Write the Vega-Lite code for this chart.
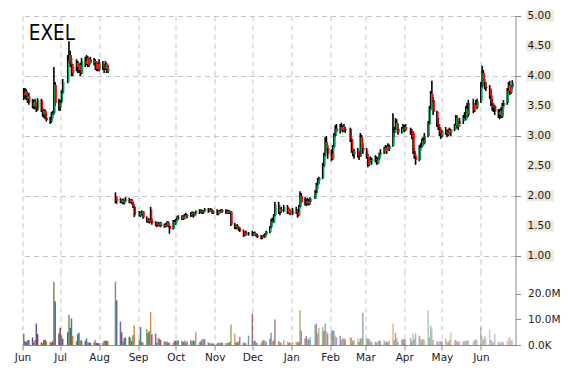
{
"$schema": "https://vega.github.io/schema/vega-lite/v6.json",
"padding": {"left": 13.5, "top": 10, "right": 5, "bottom": 5},
"background": "white",
"spacing": 0,
"config": {"view": {"stroke": null}, "concat": {"spacing": 0}, "axis": {"labelFont": "DejaVu Sans", "labelFontSize": 10.5, "labelColor": "#1a1a2a", "domainColor": "#8a8a8a", "tickColor": "#8a8a8a", "gridColor": "#c4c4c4", "gridDash": [5, 4], "title": null}},
"datasets": {"px": [
{"d":"2014-06-02","o":3.72,"h":3.80,"l":3.60,"c":3.68,"v":4.5},
{"d":"2014-06-03","o":3.68,"h":3.80,"l":3.62,"c":3.75,"v":1.5},
{"d":"2014-06-04","o":3.75,"h":3.78,"l":3.60,"c":3.62,"v":1.2},
{"d":"2014-06-05","o":3.62,"h":3.70,"l":3.55,"c":3.66,"v":1.8},
{"d":"2014-06-06","o":3.66,"h":3.72,"l":3.52,"c":3.56,"v":2.0},
{"d":"2014-06-09","o":3.56,"h":3.62,"l":3.46,"c":3.50,"v":3.0},
{"d":"2014-06-10","o":3.50,"h":3.60,"l":3.45,"c":3.58,"v":1.0},
{"d":"2014-06-11","o":3.58,"h":3.62,"l":3.44,"c":3.47,"v":2.0},
{"d":"2014-06-12","o":3.47,"h":3.55,"l":3.40,"c":3.45,"v":8.4},
{"d":"2014-06-13","o":3.45,"h":3.63,"l":3.42,"c":3.60,"v":4.3},
{"d":"2014-06-16","o":3.60,"h":3.62,"l":3.40,"c":3.42,"v":1.0},
{"d":"2014-06-17","o":3.42,"h":3.47,"l":3.32,"c":3.36,"v":0.8},
{"d":"2014-06-18","o":3.36,"h":3.45,"l":3.30,"c":3.42,"v":2.0},
{"d":"2014-06-19","o":3.42,"h":3.44,"l":3.28,"c":3.30,"v":2.1},
{"d":"2014-06-20","o":3.30,"h":3.38,"l":3.24,"c":3.27,"v":1.5},
{"d":"2014-06-23","o":3.27,"h":3.32,"l":3.20,"c":3.25,"v":1.2},
{"d":"2014-06-24","o":3.25,"h":3.40,"l":3.22,"c":3.36,"v":0.8},
{"d":"2014-06-25","o":3.36,"h":3.42,"l":3.30,"c":3.38,"v":1.5},
{"d":"2014-06-26","o":3.38,"h":4.15,"l":3.36,"c":3.85,"v":24.8},
{"d":"2014-06-27","o":3.85,"h":3.90,"l":3.50,"c":3.55,"v":17.0},
{"d":"2014-06-30","o":3.55,"h":3.62,"l":3.42,"c":3.48,"v":4.5},
{"d":"2014-07-01","o":3.48,"h":3.60,"l":3.42,"c":3.56,"v":6.8},
{"d":"2014-07-02","o":3.56,"h":3.76,"l":3.54,"c":3.72,"v":3.8},
{"d":"2014-07-03","o":3.72,"h":3.95,"l":3.70,"c":3.90,"v":2.5},
{"d":"2014-07-07","o":3.90,"h":4.35,"l":3.88,"c":4.25,"v":5.0},
{"d":"2014-07-08","o":4.25,"h":4.58,"l":4.20,"c":4.35,"v":11.9},
{"d":"2014-07-09","o":4.35,"h":4.42,"l":4.15,"c":4.20,"v":6.8},
{"d":"2014-07-10","o":4.20,"h":4.30,"l":4.00,"c":4.05,"v":10.4},
{"d":"2014-07-11","o":4.05,"h":4.20,"l":4.00,"c":4.15,"v":3.6},
{"d":"2014-07-14","o":4.15,"h":4.28,"l":4.08,"c":4.22,"v":1.5},
{"d":"2014-07-15","o":4.22,"h":4.25,"l":4.05,"c":4.10,"v":4.3},
{"d":"2014-07-16","o":4.10,"h":4.20,"l":4.05,"c":4.18,"v":4.8},
{"d":"2014-07-17","o":4.18,"h":4.22,"l":4.00,"c":4.05,"v":1.8},
{"d":"2014-07-18","o":4.05,"h":4.30,"l":4.03,"c":4.25,"v":1.8},
{"d":"2014-07-21","o":4.25,"h":4.32,"l":4.15,"c":4.20,"v":1.6},
{"d":"2014-07-22","o":4.20,"h":4.35,"l":4.18,"c":4.30,"v":2.6},
{"d":"2014-07-23","o":4.30,"h":4.33,"l":4.15,"c":4.18,"v":1.0},
{"d":"2014-07-24","o":4.18,"h":4.30,"l":4.15,"c":4.28,"v":1.0},
{"d":"2014-07-25","o":4.28,"h":4.32,"l":4.20,"c":4.22,"v":0.9},
{"d":"2014-07-28","o":4.22,"h":4.30,"l":4.18,"c":4.25,"v":1.1},
{"d":"2014-07-29","o":4.25,"h":4.28,"l":4.10,"c":4.12,"v":2.0},
{"d":"2014-07-30","o":4.12,"h":4.25,"l":4.08,"c":4.20,"v":0.8},
{"d":"2014-07-31","o":4.20,"h":4.22,"l":4.08,"c":4.10,"v":0.8},
{"d":"2014-08-01","o":4.10,"h":4.28,"l":4.08,"c":4.22,"v":0.7},
{"d":"2014-08-04","o":4.22,"h":4.25,"l":4.10,"c":4.15,"v":0.9},
{"d":"2014-08-05","o":4.15,"h":4.20,"l":4.05,"c":4.12,"v":1.7},
{"d":"2014-08-06","o":4.12,"h":4.25,"l":4.10,"c":4.20,"v":1.6},
{"d":"2014-08-07","o":4.20,"h":4.22,"l":4.05,"c":4.08,"v":1.7},
{"d":"2014-08-08","o":4.08,"h":4.18,"l":4.05,"c":4.12,"v":1.5},
{"d":"2014-08-14","o":2.00,"h":2.06,"l":1.88,"c":1.92,"v":24.8},
{"d":"2014-08-15","o":1.92,"h":1.98,"l":1.87,"c":1.95,"v":17.5},
{"d":"2014-08-18","o":1.95,"h":1.97,"l":1.88,"c":1.90,"v":9.2},
{"d":"2014-08-19","o":1.90,"h":1.95,"l":1.88,"c":1.93,"v":5.0},
{"d":"2014-08-20","o":1.93,"h":1.96,"l":1.86,"c":1.88,"v":1.2},
{"d":"2014-08-21","o":1.88,"h":1.94,"l":1.86,"c":1.92,"v":2.6},
{"d":"2014-08-22","o":1.92,"h":1.98,"l":1.90,"c":1.94,"v":3.0},
{"d":"2014-08-25","o":1.94,"h":1.97,"l":1.88,"c":1.90,"v":3.2},
{"d":"2014-08-26","o":1.90,"h":1.95,"l":1.88,"c":1.93,"v":2.8},
{"d":"2014-08-27","o":1.93,"h":1.95,"l":1.86,"c":1.87,"v":1.5},
{"d":"2014-08-28","o":1.87,"h":1.90,"l":1.80,"c":1.82,"v":3.8},
{"d":"2014-08-29","o":1.82,"h":1.84,"l":1.65,"c":1.68,"v":7.6},
{"d":"2014-09-02","o":1.68,"h":1.75,"l":1.66,"c":1.72,"v":2.0},
{"d":"2014-09-03","o":1.72,"h":1.74,"l":1.65,"c":1.70,"v":7.0},
{"d":"2014-09-04","o":1.70,"h":1.76,"l":1.68,"c":1.74,"v":1.2},
{"d":"2014-09-05","o":1.74,"h":1.75,"l":1.62,"c":1.64,"v":1.0},
{"d":"2014-09-08","o":1.64,"h":1.66,"l":1.56,"c":1.58,"v":6.2},
{"d":"2014-09-09","o":1.58,"h":1.63,"l":1.55,"c":1.60,"v":4.7},
{"d":"2014-09-10","o":1.60,"h":1.62,"l":1.54,"c":1.56,"v":5.5},
{"d":"2014-09-11","o":1.78,"h":1.82,"l":1.55,"c":1.58,"v":13.0},
{"d":"2014-09-12","o":1.58,"h":1.62,"l":1.52,"c":1.55,"v":4.2},
{"d":"2014-09-15","o":1.55,"h":1.58,"l":1.50,"c":1.52,"v":4.5},
{"d":"2014-09-16","o":1.52,"h":1.56,"l":1.48,"c":1.54,"v":1.0},
{"d":"2014-09-17","o":1.54,"h":1.57,"l":1.50,"c":1.51,"v":2.8},
{"d":"2014-09-18","o":1.51,"h":1.56,"l":1.49,"c":1.55,"v":2.4},
{"d":"2014-09-19","o":1.55,"h":1.57,"l":1.48,"c":1.50,"v":2.0},
{"d":"2014-09-22","o":1.50,"h":1.54,"l":1.47,"c":1.52,"v":1.5},
{"d":"2014-09-23","o":1.52,"h":1.55,"l":1.48,"c":1.50,"v":1.2},
{"d":"2014-09-24","o":1.50,"h":1.58,"l":1.49,"c":1.56,"v":1.4},
{"d":"2014-09-25","o":1.56,"h":1.58,"l":1.48,"c":1.50,"v":0.8},
{"d":"2014-09-26","o":1.50,"h":1.52,"l":1.37,"c":1.45,"v":1.0},
{"d":"2014-09-29","o":1.45,"h":1.60,"l":1.44,"c":1.57,"v":0.9},
{"d":"2014-09-30","o":1.57,"h":1.60,"l":1.52,"c":1.54,"v":1.7},
{"d":"2014-10-01","o":1.54,"h":1.62,"l":1.52,"c":1.60,"v":1.6},
{"d":"2014-10-02","o":1.60,"h":1.66,"l":1.58,"c":1.64,"v":1.8},
{"d":"2014-10-03","o":1.64,"h":1.68,"l":1.60,"c":1.62,"v":1.8},
{"d":"2014-10-06","o":1.62,"h":1.68,"l":1.60,"c":1.66,"v":1.7},
{"d":"2014-10-07","o":1.66,"h":1.68,"l":1.60,"c":1.62,"v":1.2},
{"d":"2014-10-08","o":1.62,"h":1.70,"l":1.61,"c":1.68,"v":1.8},
{"d":"2014-10-09","o":1.68,"h":1.72,"l":1.64,"c":1.66,"v":1.0},
{"d":"2014-10-10","o":1.66,"h":1.70,"l":1.63,"c":1.68,"v":1.5},
{"d":"2014-10-13","o":1.68,"h":1.73,"l":1.65,"c":1.70,"v":1.9},
{"d":"2014-10-14","o":1.70,"h":1.74,"l":1.66,"c":1.72,"v":1.4},
{"d":"2014-10-15","o":1.72,"h":1.74,"l":1.64,"c":1.67,"v":1.8},
{"d":"2014-10-16","o":1.67,"h":1.73,"l":1.66,"c":1.71,"v":1.7},
{"d":"2014-10-17","o":1.71,"h":1.76,"l":1.69,"c":1.74,"v":5.0},
{"d":"2014-10-20","o":1.74,"h":1.78,"l":1.70,"c":1.76,"v":1.2},
{"d":"2014-10-21","o":1.76,"h":1.78,"l":1.72,"c":1.74,"v":1.5},
{"d":"2014-10-22","o":1.74,"h":1.77,"l":1.70,"c":1.72,"v":2.3},
{"d":"2014-10-23","o":1.72,"h":1.76,"l":1.70,"c":1.75,"v":2.2},
{"d":"2014-10-24","o":1.75,"h":1.80,"l":1.73,"c":1.78,"v":2.4},
{"d":"2014-10-27","o":1.78,"h":1.80,"l":1.72,"c":1.74,"v":1.0},
{"d":"2014-10-28","o":1.74,"h":1.79,"l":1.73,"c":1.77,"v":0.6},
{"d":"2014-10-29","o":1.77,"h":1.80,"l":1.74,"c":1.76,"v":0.8},
{"d":"2014-10-30","o":1.76,"h":1.78,"l":1.70,"c":1.72,"v":0.6},
{"d":"2014-10-31","o":1.72,"h":1.76,"l":1.70,"c":1.74,"v":0.6},
{"d":"2014-11-03","o":1.74,"h":1.78,"l":1.68,"c":1.70,"v":0.6},
{"d":"2014-11-04","o":1.70,"h":1.76,"l":1.68,"c":1.75,"v":0.9},
{"d":"2014-11-05","o":1.75,"h":1.77,"l":1.71,"c":1.73,"v":0.8},
{"d":"2014-11-06","o":1.73,"h":1.78,"l":1.72,"c":1.76,"v":0.8},
{"d":"2014-11-07","o":1.76,"h":1.78,"l":1.72,"c":1.74,"v":1.0},
{"d":"2014-11-10","o":1.74,"h":1.78,"l":1.70,"c":1.72,"v":0.8},
{"d":"2014-11-11","o":1.72,"h":1.77,"l":1.71,"c":1.75,"v":0.7},
{"d":"2014-11-12","o":1.75,"h":1.77,"l":1.70,"c":1.72,"v":0.9},
{"d":"2014-11-13","o":1.72,"h":1.76,"l":1.70,"c":1.74,"v":1.2},
{"d":"2014-11-14","o":1.74,"h":1.75,"l":1.50,"c":1.52,"v":8.0},
{"d":"2014-11-17","o":1.52,"h":1.55,"l":1.45,"c":1.48,"v":4.5},
{"d":"2014-11-18","o":1.48,"h":1.52,"l":1.44,"c":1.50,"v":1.2},
{"d":"2014-11-19","o":1.50,"h":1.53,"l":1.46,"c":1.47,"v":1.0},
{"d":"2014-11-20","o":1.47,"h":1.50,"l":1.42,"c":1.45,"v":1.5},
{"d":"2014-11-21","o":1.45,"h":1.48,"l":1.40,"c":1.42,"v":3.0},
{"d":"2014-11-24","o":1.42,"h":1.44,"l":1.32,"c":1.35,"v":1.0},
{"d":"2014-11-25","o":1.35,"h":1.40,"l":1.33,"c":1.38,"v":0.8},
{"d":"2014-11-26","o":1.38,"h":1.42,"l":1.34,"c":1.36,"v":0.6},
{"d":"2014-11-28","o":1.36,"h":1.40,"l":1.34,"c":1.38,"v":3.6},
{"d":"2014-12-01","o":1.38,"h":1.42,"l":1.33,"c":1.35,"v":12.3},
{"d":"2014-12-02","o":1.35,"h":1.40,"l":1.34,"c":1.38,"v":1.5},
{"d":"2014-12-03","o":1.38,"h":1.41,"l":1.34,"c":1.36,"v":1.8},
{"d":"2014-12-04","o":1.36,"h":1.38,"l":1.32,"c":1.34,"v":1.0},
{"d":"2014-12-05","o":1.34,"h":1.37,"l":1.30,"c":1.32,"v":0.8},
{"d":"2014-12-08","o":1.32,"h":1.35,"l":1.28,"c":1.30,"v":0.6},
{"d":"2014-12-09","o":1.30,"h":1.34,"l":1.28,"c":1.33,"v":1.5},
{"d":"2014-12-10","o":1.33,"h":1.36,"l":1.30,"c":1.31,"v":2.0},
{"d":"2014-12-11","o":1.31,"h":1.38,"l":1.30,"c":1.36,"v":1.8},
{"d":"2014-12-12","o":1.36,"h":1.42,"l":1.34,"c":1.40,"v":1.2},
{"d":"2014-12-15","o":1.40,"h":1.50,"l":1.38,"c":1.48,"v":2.5},
{"d":"2014-12-16","o":1.48,"h":1.62,"l":1.46,"c":1.58,"v":4.8},
{"d":"2014-12-17","o":1.58,"h":1.64,"l":1.54,"c":1.56,"v":1.5},
{"d":"2014-12-18","o":1.56,"h":1.70,"l":1.55,"c":1.68,"v":1.8},
{"d":"2014-12-19","o":1.68,"h":1.90,"l":1.66,"c":1.85,"v":10.0},
{"d":"2014-12-22","o":1.85,"h":1.90,"l":1.70,"c":1.74,"v":1.6},
{"d":"2014-12-23","o":1.74,"h":1.80,"l":1.68,"c":1.78,"v":1.2},
{"d":"2014-12-24","o":1.78,"h":1.82,"l":1.72,"c":1.75,"v":0.8},
{"d":"2014-12-26","o":1.75,"h":1.85,"l":1.73,"c":1.82,"v":1.8},
{"d":"2014-12-29","o":1.82,"h":1.85,"l":1.70,"c":1.72,"v":1.4},
{"d":"2014-12-30","o":1.72,"h":1.80,"l":1.70,"c":1.76,"v":0.9},
{"d":"2014-12-31","o":1.76,"h":1.78,"l":1.68,"c":1.70,"v":1.0},
{"d":"2015-01-02","o":1.70,"h":1.80,"l":1.68,"c":1.76,"v":1.2},
{"d":"2015-01-05","o":1.76,"h":1.82,"l":1.70,"c":1.72,"v":1.2},
{"d":"2015-01-06","o":1.72,"h":1.78,"l":1.64,"c":1.68,"v":1.0},
{"d":"2015-01-07","o":1.68,"h":1.85,"l":1.66,"c":1.82,"v":1.3},
{"d":"2015-01-08","o":1.82,"h":2.08,"l":1.80,"c":2.00,"v":13.5},
{"d":"2015-01-09","o":2.00,"h":2.05,"l":1.88,"c":1.90,"v":5.5},
{"d":"2015-01-12","o":1.90,"h":1.98,"l":1.84,"c":1.88,"v":2.5},
{"d":"2015-01-13","o":1.88,"h":1.96,"l":1.83,"c":1.92,"v":3.6},
{"d":"2015-01-14","o":1.92,"h":1.97,"l":1.85,"c":1.87,"v":2.5},
{"d":"2015-01-15","o":1.87,"h":1.95,"l":1.84,"c":1.90,"v":2.0},
{"d":"2015-01-16","o":1.90,"h":1.98,"l":1.86,"c":1.96,"v":3.0},
{"d":"2015-01-20","o":1.96,"h":2.10,"l":1.95,"c":2.05,"v":8.0},
{"d":"2015-01-21","o":2.05,"h":2.22,"l":2.02,"c":2.18,"v":8.4},
{"d":"2015-01-22","o":2.18,"h":2.30,"l":2.12,"c":2.26,"v":4.5},
{"d":"2015-01-23","o":2.26,"h":2.32,"l":2.20,"c":2.30,"v":6.8},
{"d":"2015-01-26","o":2.30,"h":2.55,"l":2.28,"c":2.50,"v":7.0},
{"d":"2015-01-27","o":2.50,"h":2.72,"l":2.48,"c":2.68,"v":5.5},
{"d":"2015-01-28","o":2.68,"h":2.98,"l":2.65,"c":2.90,"v":8.4},
{"d":"2015-01-29","o":2.90,"h":3.00,"l":2.75,"c":2.80,"v":5.5},
{"d":"2015-01-30","o":2.80,"h":2.85,"l":2.62,"c":2.70,"v":4.5},
{"d":"2015-02-02","o":2.70,"h":2.78,"l":2.58,"c":2.62,"v":5.5},
{"d":"2015-02-03","o":2.62,"h":2.85,"l":2.60,"c":2.82,"v":5.8},
{"d":"2015-02-04","o":2.82,"h":3.05,"l":2.80,"c":3.00,"v":5.5},
{"d":"2015-02-05","o":3.00,"h":3.18,"l":2.98,"c":3.12,"v":3.6},
{"d":"2015-02-06","o":3.12,"h":3.20,"l":3.05,"c":3.08,"v":3.0},
{"d":"2015-02-09","o":3.08,"h":3.20,"l":3.04,"c":3.15,"v":3.6},
{"d":"2015-02-10","o":3.15,"h":3.22,"l":3.08,"c":3.10,"v":2.0},
{"d":"2015-02-11","o":3.10,"h":3.18,"l":3.06,"c":3.16,"v":2.6},
{"d":"2015-02-12","o":3.16,"h":3.20,"l":3.08,"c":3.10,"v":2.6},
{"d":"2015-02-13","o":3.10,"h":3.15,"l":3.05,"c":3.12,"v":2.2},
{"d":"2015-02-17","o":3.12,"h":3.14,"l":2.90,"c":2.95,"v":3.0},
{"d":"2015-02-18","o":2.95,"h":2.98,"l":2.72,"c":2.75,"v":2.8},
{"d":"2015-02-19","o":2.75,"h":2.80,"l":2.66,"c":2.70,"v":1.5},
{"d":"2015-02-20","o":2.70,"h":2.78,"l":2.62,"c":2.74,"v":2.0},
{"d":"2015-02-23","o":2.74,"h":2.80,"l":2.64,"c":2.68,"v":2.5},
{"d":"2015-02-24","o":2.68,"h":2.74,"l":2.60,"c":2.66,"v":1.2},
{"d":"2015-02-25","o":2.66,"h":3.05,"l":2.65,"c":2.98,"v":2.5},
{"d":"2015-02-26","o":2.98,"h":3.02,"l":2.78,"c":2.80,"v":2.7},
{"d":"2015-02-27","o":2.80,"h":2.88,"l":2.70,"c":2.76,"v":12.5},
{"d":"2015-03-02","o":2.76,"h":2.80,"l":2.62,"c":2.65,"v":2.6},
{"d":"2015-03-03","o":2.65,"h":2.70,"l":2.48,"c":2.52,"v":2.5},
{"d":"2015-03-04","o":2.52,"h":2.62,"l":2.50,"c":2.60,"v":2.4},
{"d":"2015-03-05","o":2.60,"h":2.66,"l":2.55,"c":2.58,"v":1.6},
{"d":"2015-03-06","o":2.58,"h":2.64,"l":2.52,"c":2.62,"v":1.2},
{"d":"2015-03-09","o":2.62,"h":2.68,"l":2.56,"c":2.60,"v":1.2},
{"d":"2015-03-10","o":2.60,"h":2.66,"l":2.52,"c":2.55,"v":1.0},
{"d":"2015-03-11","o":2.55,"h":2.64,"l":2.53,"c":2.62,"v":1.4},
{"d":"2015-03-12","o":2.62,"h":2.72,"l":2.60,"c":2.70,"v":1.8},
{"d":"2015-03-13","o":2.70,"h":2.78,"l":2.66,"c":2.72,"v":1.6},
{"d":"2015-03-16","o":2.72,"h":2.82,"l":2.70,"c":2.80,"v":1.8},
{"d":"2015-03-17","o":2.80,"h":2.85,"l":2.72,"c":2.75,"v":1.2},
{"d":"2015-03-18","o":2.75,"h":2.84,"l":2.70,"c":2.82,"v":1.5},
{"d":"2015-03-19","o":2.82,"h":2.88,"l":2.76,"c":2.78,"v":1.0},
{"d":"2015-03-20","o":2.78,"h":2.86,"l":2.75,"c":2.84,"v":1.8},
{"d":"2015-03-23","o":2.84,"h":3.38,"l":2.82,"c":3.05,"v":8.4},
{"d":"2015-03-24","o":3.05,"h":3.15,"l":2.98,"c":3.10,"v":2.0},
{"d":"2015-03-25","o":3.10,"h":3.30,"l":3.05,"c":3.22,"v":4.7},
{"d":"2015-03-26","o":3.22,"h":3.28,"l":3.10,"c":3.12,"v":2.6},
{"d":"2015-03-27","o":3.12,"h":3.20,"l":3.02,"c":3.06,"v":1.3},
{"d":"2015-03-30","o":3.06,"h":3.15,"l":3.04,"c":3.12,"v":2.0},
{"d":"2015-03-31","o":3.12,"h":3.20,"l":3.08,"c":3.10,"v":2.2},
{"d":"2015-04-01","o":3.10,"h":3.18,"l":3.06,"c":3.15,"v":2.4},
{"d":"2015-04-02","o":3.15,"h":3.20,"l":3.08,"c":3.10,"v":2.0},
{"d":"2015-04-06","o":3.10,"h":3.14,"l":3.02,"c":3.08,"v":2.8},
{"d":"2015-04-07","o":3.08,"h":3.12,"l":2.95,"c":2.98,"v":1.5},
{"d":"2015-04-08","o":3.06,"h":3.08,"l":2.70,"c":2.75,"v":4.5},
{"d":"2015-04-09","o":2.75,"h":2.80,"l":2.62,"c":2.66,"v":2.2},
{"d":"2015-04-10","o":2.66,"h":2.70,"l":2.52,"c":2.60,"v":4.5},
{"d":"2015-04-13","o":2.60,"h":2.85,"l":2.58,"c":2.80,"v":3.6},
{"d":"2015-04-14","o":2.80,"h":2.88,"l":2.75,"c":2.82,"v":2.6},
{"d":"2015-04-15","o":2.82,"h":2.96,"l":2.80,"c":2.92,"v":1.8},
{"d":"2015-04-16","o":2.92,"h":2.98,"l":2.85,"c":2.88,"v":2.4},
{"d":"2015-04-17","o":2.88,"h":3.05,"l":2.86,"c":3.00,"v":2.0},
{"d":"2015-04-20","o":3.00,"h":3.25,"l":2.98,"c":3.20,"v":13.5},
{"d":"2015-04-21","o":3.20,"h":3.50,"l":3.18,"c":3.45,"v":3.0},
{"d":"2015-04-22","o":3.45,"h":3.75,"l":3.42,"c":3.70,"v":7.6},
{"d":"2015-04-23","o":3.70,"h":3.92,"l":3.55,"c":3.60,"v":6.3},
{"d":"2015-04-24","o":3.60,"h":3.65,"l":3.35,"c":3.40,"v":2.0},
{"d":"2015-04-27","o":3.40,"h":3.42,"l":3.15,"c":3.20,"v":1.5},
{"d":"2015-04-28","o":3.20,"h":3.30,"l":3.10,"c":3.15,"v":1.2},
{"d":"2015-04-29","o":3.15,"h":3.20,"l":3.00,"c":3.05,"v":1.5},
{"d":"2015-04-30","o":3.05,"h":3.12,"l":2.95,"c":3.00,"v":1.6},
{"d":"2015-05-01","o":3.00,"h":3.10,"l":2.98,"c":3.08,"v":1.4},
{"d":"2015-05-04","o":3.08,"h":3.15,"l":3.02,"c":3.05,"v":2.6},
{"d":"2015-05-05","o":3.05,"h":3.10,"l":2.98,"c":3.02,"v":1.5},
{"d":"2015-05-06","o":3.02,"h":3.12,"l":3.00,"c":3.10,"v":1.2},
{"d":"2015-05-07","o":3.10,"h":3.14,"l":3.02,"c":3.05,"v":2.0},
{"d":"2015-05-08","o":3.05,"h":3.12,"l":3.00,"c":3.10,"v":4.9},
{"d":"2015-05-11","o":3.10,"h":3.20,"l":3.08,"c":3.18,"v":1.8},
{"d":"2015-05-12","o":3.18,"h":3.35,"l":3.15,"c":3.30,"v":2.0},
{"d":"2015-05-13","o":3.30,"h":3.34,"l":3.12,"c":3.15,"v":1.5},
{"d":"2015-05-14","o":3.15,"h":3.25,"l":3.10,"c":3.20,"v":1.2},
{"d":"2015-05-15","o":3.20,"h":3.30,"l":3.15,"c":3.25,"v":1.5},
{"d":"2015-05-18","o":3.25,"h":3.35,"l":3.20,"c":3.30,"v":1.4},
{"d":"2015-05-19","o":3.30,"h":3.40,"l":3.25,"c":3.28,"v":1.5},
{"d":"2015-05-20","o":3.28,"h":3.50,"l":3.26,"c":3.45,"v":1.8},
{"d":"2015-05-21","o":3.45,"h":3.55,"l":3.30,"c":3.35,"v":1.6},
{"d":"2015-05-22","o":3.35,"h":3.60,"l":3.32,"c":3.55,"v":1.8},
{"d":"2015-05-26","o":3.55,"h":3.62,"l":3.38,"c":3.42,"v":1.5},
{"d":"2015-05-27","o":3.42,"h":3.55,"l":3.40,"c":3.52,"v":1.8},
{"d":"2015-05-28","o":3.52,"h":3.60,"l":3.45,"c":3.48,"v":2.4},
{"d":"2015-05-29","o":3.48,"h":3.62,"l":3.45,"c":3.58,"v":2.0},
{"d":"2015-06-01","o":3.58,"h":3.90,"l":3.55,"c":3.82,"v":7.0},
{"d":"2015-06-02","o":3.82,"h":4.17,"l":3.80,"c":4.05,"v":3.2},
{"d":"2015-06-03","o":4.05,"h":4.10,"l":3.85,"c":3.90,"v":2.2},
{"d":"2015-06-04","o":3.90,"h":3.95,"l":3.78,"c":3.82,"v":3.6},
{"d":"2015-06-05","o":3.82,"h":3.90,"l":3.75,"c":3.80,"v":2.5},
{"d":"2015-06-08","o":3.80,"h":3.85,"l":3.62,"c":3.68,"v":6.2},
{"d":"2015-06-09","o":3.68,"h":3.78,"l":3.50,"c":3.55,"v":2.0},
{"d":"2015-06-10","o":3.55,"h":3.62,"l":3.42,"c":3.48,"v":1.5},
{"d":"2015-06-11","o":3.48,"h":3.55,"l":3.40,"c":3.50,"v":1.2},
{"d":"2015-06-12","o":3.50,"h":3.52,"l":3.35,"c":3.40,"v":4.3},
{"d":"2015-06-15","o":3.40,"h":3.45,"l":3.30,"c":3.35,"v":1.2},
{"d":"2015-06-16","o":3.35,"h":3.45,"l":3.28,"c":3.42,"v":1.0},
{"d":"2015-06-17","o":3.42,"h":3.48,"l":3.30,"c":3.32,"v":1.2},
{"d":"2015-06-18","o":3.32,"h":3.55,"l":3.30,"c":3.50,"v":1.4},
{"d":"2015-06-19","o":3.50,"h":3.60,"l":3.45,"c":3.55,"v":1.0},
{"d":"2015-06-22","o":3.55,"h":3.80,"l":3.52,"c":3.75,"v":1.5},
{"d":"2015-06-23","o":3.75,"h":3.90,"l":3.70,"c":3.85,"v":2.6},
{"d":"2015-06-24","o":3.85,"h":3.92,"l":3.68,"c":3.72,"v":3.0},
{"d":"2015-06-25","o":3.72,"h":3.85,"l":3.70,"c":3.82,"v":1.8},
{"d":"2015-06-26","o":3.82,"h":3.93,"l":3.78,"c":3.88,"v":2.0}
],
"ticks": [{"p": 1}, {"p": 1.5}, {"p": 2}, {"p": 2.5}, {"p": 3}, {"p": 3.5}, {"p": 4}, {"p": 4.5}, {"p": 5}]
},
"vconcat": [
{
"width": 493, "height": 255,
"data": {"name": "px"},
"layer": [
{"mark": {"type": "rule", "color": "#000000", "strokeWidth": 1.6},
 "encoding": {
  "x": {"field": "d", "type": "temporal", "scale": {"nice": false, "padding": 0, "domain": [{"year": 2014, "month": 6, "date": 1}, {"year": 2015, "month": 6, "date": 28, "hours": 14}]},
        "axis": {"labels": false, "ticks": false, "domain": false, "grid": true, "tickCount": {"interval": "month", "step": 1}}},
  "y": {"field": "l", "type": "quantitative", "scale": {"domain": [0.75, 5], "nice": false, "zero": false, "padding": 0},
        "axis": {"orient": "right", "values": [1, 1.5, 2, 2.5, 3, 3.5, 4, 4.5, 5], "labels": false, "grid": true, "tickSize": 5}},
  "y2": {"field": "h"}}},
{"mark": {"type": "bar", "width": 1.5, "xOffset": 1},
 "encoding": {
  "x": {"field": "d", "type": "temporal"},
  "y": {"field": "o", "type": "quantitative"},
  "y2": {"field": "c"},
  "color": {"condition": {"test": "datum.c >= datum.o", "value": "#00a651"}, "value": "#ff0000"}}},
{"data": {"name": "ticks"},
 "mark": {"type": "bar", "height": 11, "color": "#ece9d8", "orient": "horizontal"},
 "encoding": {
  "x": {"datum": {"year": 2015, "month": 7, "date": 7, "hours": 4}, "type": "temporal"},
  "x2": {"datum": {"year": 2015, "month": 7, "date": 29, "hours": 2}},
  "y": {"field": "p", "type": "quantitative"}}},
{"data": {"name": "ticks"},
 "mark": {"type": "text", "align": "left", "baseline": "middle", "dx": 12, "font": "DejaVu Sans", "fontSize": 10.5, "color": "#1a1a2a"},
 "encoding": {
  "x": {"datum": {"year": 2015, "month": 6, "date": 28, "hours": 14}, "type": "temporal"},
  "y": {"field": "p", "type": "quantitative"},
  "text": {"field": "p", "type": "quantitative", "format": ".2f"}}},
{"data": {"values": [{"t": "EXEL"}]},
 "mark": {"type": "text", "font": "DejaVu Sans Condensed, Open Sans", "fontSize": 20.5, "align": "left", "baseline": "middle", "color": "#000000"},
 "encoding": {
  "x": {"datum": {"year": 2014, "month": 6, "date": 6}, "type": "temporal"},
  "y": {"datum": 4.7, "type": "quantitative"},
  "text": {"field": "t"}}}
]
},
{
"width": 493, "height": 74,
"data": {"name": "px"},
"mark": {"type": "bar", "width": 1.5},
"encoding": {
 "x": {"field": "d", "type": "temporal", "scale": {"nice": false, "padding": 0, "domain": [{"year": 2014, "month": 6, "date": 1}, {"year": 2015, "month": 6, "date": 28, "hours": 14}]},
       "axis": {"format": "%b", "tickCount": {"interval": "month", "step": 1}, "grid": true, "tickSize": 5, "labelPadding": 2, "labelFlush": false, "labelOverlap": false}},
 "y": {"field": "v", "type": "quantitative", "scale": {"domain": [0, 29], "nice": false},
       "axis": {"orient": "right", "values": [0, 10, 20], "labelExpr": "datum.value == 0 ? '0.0K' : format(datum.value, '.1f') + 'M'", "grid": false, "tickSize": 5, "labelPadding": 7}},
 "color": {"field": "d", "timeUnit": "date", "type": "nominal", "legend": null,
           "scale": {"range": ["#8b3a3a", "#6b8e3a", "#3d5a99", "#2b7a8c", "#d2781e", "#6a4c93"]}},
 "opacity": {"field": "d", "type": "temporal", "legend": null, "scale": {"range": [1, 0.35]}}
}
}
]
}
